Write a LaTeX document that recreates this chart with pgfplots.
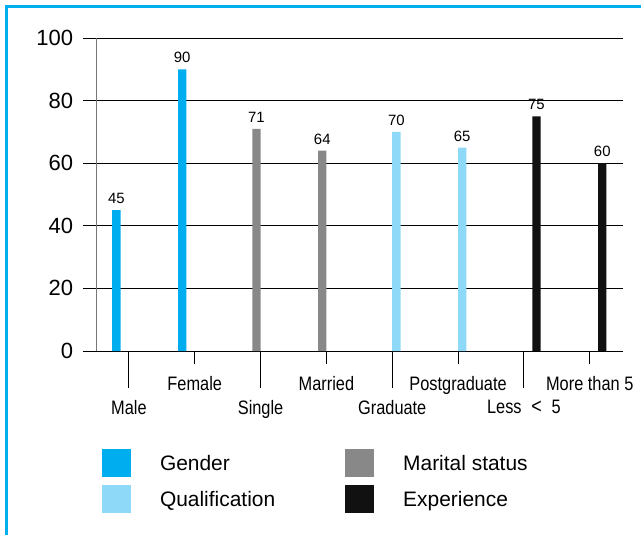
\documentclass[border=0pt]{standalone}
\usepackage{fontspec}
\setmainfont{Liberation Sans}
\newfontfamily\narrowfont[FakeStretch=0.84]{Liberation Sans}
\usepackage{pgfplots}
\pgfplotsset{compat=1.18}
\definecolor{gender}{HTML}{00AEEF}
\definecolor{qualif}{HTML}{8FD9F8}
\definecolor{marital}{HTML}{888888}
\definecolor{exper}{HTML}{111111}
\definecolor{yaxisgrey}{HTML}{777777}
\begin{document}
\begin{tikzpicture}
\path[use as bounding box] (0pt,0pt) rectangle (480.75pt,-401.25pt);
\draw[gender, line width=2.25pt] (3.75pt,-4.875pt) -- (480.75pt,-4.875pt);
\draw[gender, line width=2.25pt] (4.875pt,-3.75pt) -- (4.875pt,-401.25pt);
\begin{axis}[
  at={(72pt,-263.25pt)}, anchor=south west,
  scale only axis, width=395pt, height=234.75pt,
  xmin=-0.5, xmax=7.5, ymin=0, ymax=100,
  axis x line*=bottom, axis y line*=left,
  x axis line style={black, line width=0.75pt},
  y axis line style={yaxisgrey, line width=0.75pt},
  ytick={0,20,40,60,80,100},
  tick align=outside,
  major tick length=10pt,
  tick style={black, line width=0.75pt},
  ymajorgrids, major grid style={black, line width=0.75pt},
  yticklabel style={anchor=east, inner sep=0pt, xshift=-7pt, font=\fontsize{16.5}{18}\selectfont},
  /pgf/number format/assume math mode=true,
  xtick={1,3,5,7},
  xticklabels={Female,Married,Postgraduate,More than 5},
  xticklabel style={anchor=north, inner sep=0pt, yshift=-9pt, font=\narrowfont\fontsize{14.6}{16}\selectfont},
  extra x ticks={0,2,4,6},
  extra x tick labels={Male,Single,Graduate,Less\enspace{\fontsize{16}{16}\selectfont<}\enspace5},
  extra x tick style={major tick length=27.75pt},
  ybar, bar width=6.3pt,
  nodes near coords,
  every node near coord/.append style={anchor=south, inner sep=0pt, yshift=4.5pt, font=\fontsize{11.2}{12}\selectfont, black},
  legend columns=2,
  legend cell align=left,
  legend image code/.code={\fill[#1,draw=none] (0pt,-10.5pt) rectangle (21.75pt,10.5pt);},
  legend style={at={(0.0114,-0.313)}, anchor=north west, draw=none, inner sep=0pt, outer sep=0pt,
    font=\fontsize{15.7}{17}\selectfont, row sep=6pt,
    nodes={inner sep=0pt, text height=11.3pt, text depth=0pt},
    /tikz/every odd column/.append style={column sep=21.75pt},
    /tikz/every even column/.append style={column sep=52.5pt}},
]
\addplot[fill=gender, draw=none, bar shift=-9.4pt] coordinates {(0,45) (1,90)};
\addlegendentry{Gender}
\addplot[fill=marital, draw=none, bar shift=-3.1pt] coordinates {(2,71) (3,64)};
\addlegendentry{Marital status}
\addplot[fill=qualif, draw=none, bar shift=3.1pt] coordinates {(4,70) (5,65)};
\addlegendentry{Qualification}
\addplot[fill=exper, draw=none, bar shift=9.4pt] coordinates {(6,75) (7,60)};
\addlegendentry{Experience}
\end{axis}
\end{tikzpicture}
\end{document}
